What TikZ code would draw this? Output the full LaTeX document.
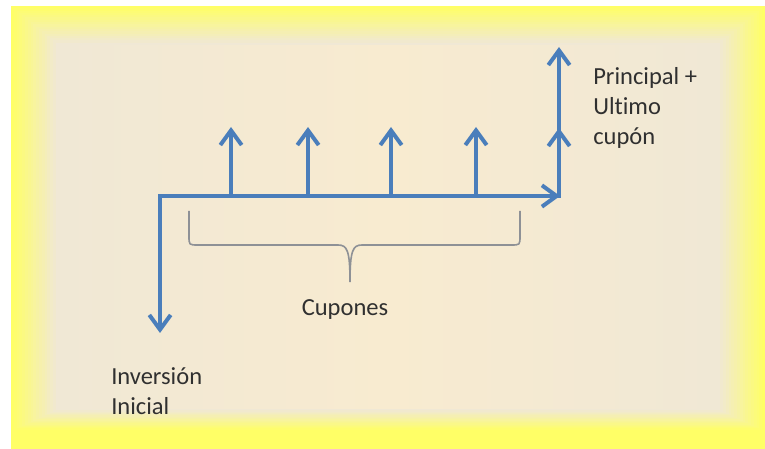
\documentclass[tikz,border=0pt]{standalone}
\usepackage{fontspec}
\setmainfont[Ligatures=NoCommon]{Carlito}
\usetikzlibrary{arrows.meta}
\definecolor{flow}{HTML}{4A7EBB}
\definecolor{frameyellow}{HTML}{FFFF66}
\definecolor{paper}{HTML}{F0E8D5}
\definecolor{paperwarm}{HTML}{F8EBD0}
\definecolor{bracegray}{HTML}{8E9196}
\definecolor{ink}{HTML}{303030}
\begin{document}
\begin{tikzpicture}[x=0.75pt,y=-0.75pt,
  flowline/.style={draw=flow,line width=3pt,line join=miter},
  tipbarb/.style={-{Straight Barb[length=11pt,width=16pt]}},
  cashlabel/.style={font=\fontsize{18.4}{22.5}\selectfont,text=ink,inner sep=0pt,align=left}]
  \useasboundingbox (0,0) rectangle (765,449);
  \fill[white] (0,0) rectangle (765,449);
  % glowing yellow frame fading into the paper colour
  \fill[frameyellow] (11,6) rectangle (765,449);
  \foreach \i in {1,...,16} {
    \pgfmathtruncatemacro\mixpc{100-\i*6.25}
    \fill[frameyellow!\mixpc!paper] (11+\i*2.8,6+\i*2.3) rectangle (765-\i*2.8,449-18-\i*1.3);
  }
  \shade[left color=paper,right color=paper,middle color=paperwarm]
    (58.6,45.1) rectangle (717.4,408.9);

  % time line
  \coordinate (o) at (160,196);
  \coordinate (down) at (160,333);
  \coordinate (end) at (560,196);
  \draw[flowline,{Straight Barb[length=11pt,width=16pt]}-{Straight Barb[length=11pt,width=16pt]}]
    (down) -- (o) -- (end);

  % coupon payments
  \foreach \n/\x in {c1/231,c2/308,c3/391,c4/476} {
    \coordinate (\n b) at (\x,196);
    \coordinate (\n t) at (\x,127);
    \draw[flowline,tipbarb] (\n b) -- (\n t);
  }

  % final payment: last coupon plus principal
  \coordinate (fb) at (559,198);
  \coordinate (fc) at (559,128);
  \coordinate (fp) at (559,47);
  \draw[flowline,tipbarb] (fb) -- (fc);
  \draw[flowline,tipbarb] (fb) -- (fp);

  % brace over the coupons
  \draw[bracegray,line width=1.2pt]
    (189,211) -- (189,236) .. controls (189,245) .. (198,245) -- (338,245)
    .. controls (347,245) and (350,250) .. (350,282)
    .. controls (350,250) and (353,245) .. (362,245) -- (511,245)
    .. controls (520,245) .. (520,236) -- (520,211);

  \node[cashlabel,anchor=west] (final) at (593,108) {Principal +\\Ultimo\\cupón};
  \node[cashlabel] (coupons) at (345,310) {Cupones};
  \node[cashlabel,anchor=west] (invest) at (111,391.5) {Inversión\\Inicial};
\end{tikzpicture}
\end{document}
